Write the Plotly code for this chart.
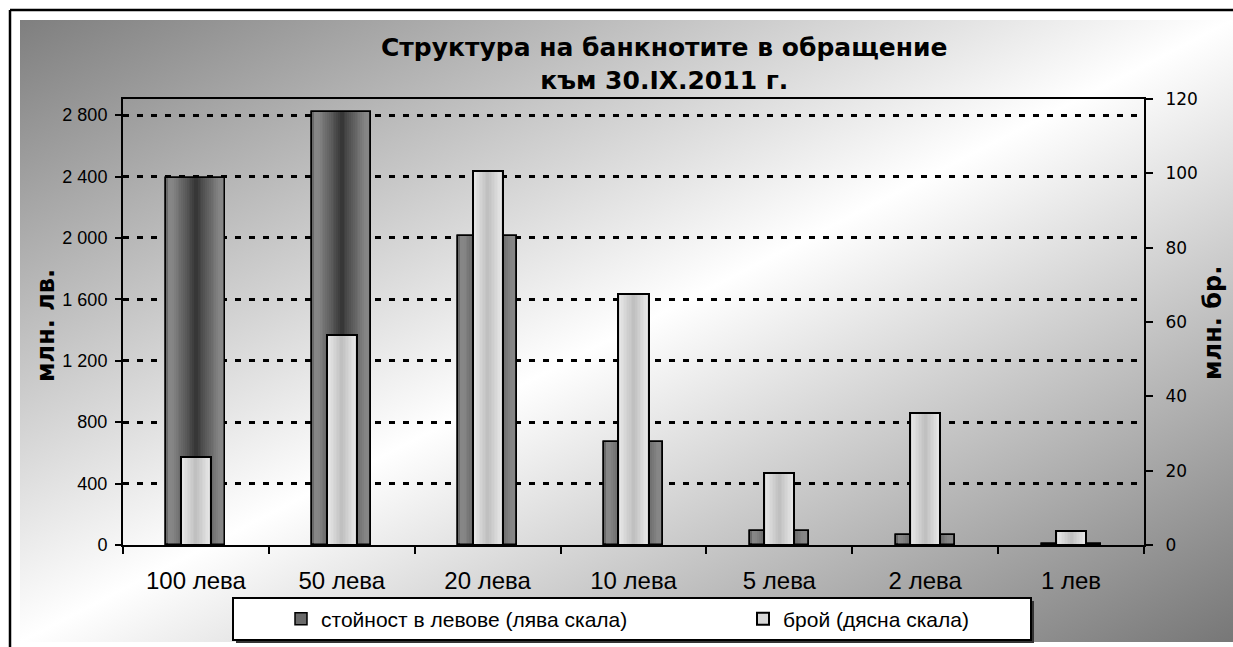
import base64
import plotly.graph_objects as go

# ---------------- data ----------------
categories = ["100 лева", "50 лева", "20 лева", "10 лева", "5 лева", "2 лева", "1 лев"]
value_mln_lv = [2390, 2820, 2010, 670, 93, 65, 4]          # left scale
count_mln_pcs = [23.6, 56.6, 100.6, 67.6, 19.3, 35.6, 3.8]  # right scale
left_tick_vals = [0, 400, 800, 1200, 1600, 2000, 2400, 2800]
left_tick_text = ["0", "400", "800", "1 200", "1 600", "2 000", "2 400", "2 800"]
right_tick_vals = [0, 20, 40, 60, 80, 100, 120]
right_tick_text = ["0", "20", "40", "60", "80", "100", "120"]
series_names = ["стойност в левове (лява скала)", "брой (дясна скала)"]
title_lines = ["Структура на банкнотите в обращение", "към 30.IX.2011 г."]
left_title = "млн. лв."
right_title = "млн. бр."

# ---------------- geometry (pixels) ----------------
W, H = 1233, 647
ML, MR, MT, MB = 123, 89, 99, 102
PW, PH = W - ML - MR, H - MT - MB


def px(x):
    return (x - ML) / PW


def py(y):
    return (H - MB - y) / PH


WIDE, NARROW = 0.404, 0.206


def grey(v):
    v = int(round(max(0, min(255, v))))
    return f"rgb({v},{v},{v})"


def wide_col(d):
    return grey(51 + (134 - 51) * min(1.0, d / 0.8) ** 0.9)


def narrow_col(d):
    return grey(190 + 46 * d)


fig = go.Figure()

# wide bars (value) with horizontal gradient built from nested bars
NW = 16
for k in range(NW):
    d = 1 - (k + 0.5) / NW
    first = k == 0
    fig.add_trace(go.Bar(
        x=categories, y=value_mln_lv, yaxis="y",
        width=WIDE * (1 - k / NW),
        marker=dict(color=wide_col(d) if not first else "#6a6a6a",
                    line=dict(color="black", width=1.5 if first else 0)),
        name=series_names[0], showlegend=first, legend="legend", hoverinfo="skip",
    ))
fig.add_trace(go.Bar(
    x=categories, y=value_mln_lv, yaxis="y", width=WIDE,
    marker=dict(color="rgba(0,0,0,0)", line=dict(color="black", width=1.5)),
    showlegend=False, hoverinfo="skip",
))

# narrow bars (count) on right axis
NN = 10
for k in range(NN):
    d = 1 - (k + 0.5) / NN
    first = k == 0
    fig.add_trace(go.Bar(
        x=categories, y=count_mln_pcs, yaxis="y2",
        width=NARROW * (1 - k / NN),
        marker=dict(color=narrow_col(d) if not first else "#d6d6d6",
                    line=dict(color="black", width=2 if first else 0)),
        name=series_names[1], showlegend=first, legend="legend2", hoverinfo="skip",
    ))
fig.add_trace(go.Bar(
    x=categories, y=count_mln_pcs, yaxis="y2", width=NARROW,
    marker=dict(color="rgba(0,0,0,0)", line=dict(color="black", width=2)),
    showlegend=False, hoverinfo="skip",
))

# background gradient
svg = (
    '<svg xmlns="http://www.w3.org/2000/svg" width="1213" height="622" '
    'viewBox="0 0 1213 622" preserveAspectRatio="none">'
    '<defs><linearGradient id="g" x1="0" y1="0" x2="1" y2="1">'
    '<stop offset="0" stop-color="#7f7f7f"/>'
    '<stop offset="0.5" stop-color="#ffffff"/>'
    '<stop offset="1" stop-color="#777777"/>'
    '</linearGradient></defs>'
    '<rect x="0" y="0" width="1213" height="622" fill="url(#g)"/></svg>'
)
src = "data:image/svg+xml;base64," + base64.b64encode(svg.encode()).decode()

shapes = [
    # outer frame (top & left visible)
    dict(type="line", xref="paper", yref="paper", x0=px(10), y0=py(10), x1=px(1240), y1=py(10),
         line=dict(color="black", width=2.5)),
    dict(type="line", xref="paper", yref="paper", x0=px(10), y0=py(10), x1=px(10), y1=py(660),
         line=dict(color="black", width=2.5)),
    # legend box shadow and box
    dict(type="rect", xref="paper", yref="paper", x0=px(236), y0=py(601), x1=px(1034), y1=py(643),
         fillcolor="#333333", line=dict(width=0), layer="above"),
    dict(type="rect", xref="paper", yref="paper", x0=px(233), y0=py(598), x1=px(1031), y1=py(640),
         fillcolor="white", line=dict(color="black", width=2), layer="above"),
]

annotations = [
    dict(text="<b>" + title_lines[0] + "<br>" + title_lines[1] + "</b>", xref="paper", yref="paper",
         x=px(664), y=py(64), xanchor="center", yanchor="middle", showarrow=False,
         font=dict(family="DejaVu Sans", size=25, color="black")),
    dict(text="<b>" + left_title + "</b>", xref="paper", yref="paper", x=px(46), y=py(326),
         xanchor="center", yanchor="middle", textangle=-90, showarrow=False,
         font=dict(family="DejaVu Sans", size=24, color="black")),
    dict(text="<b>" + right_title + "</b>", xref="paper", yref="paper", x=px(1213), y=py(323),
         xanchor="center", yanchor="middle", textangle=-90, showarrow=False,
         font=dict(family="DejaVu Sans", size=24, color="black")),
]

legend_common = dict(
    orientation="h", yanchor="middle", xanchor="left",
    bgcolor="rgba(0,0,0,0)", borderwidth=0,
    font=dict(family="Liberation Sans", size=21, color="black"),
)

fig.update_layout(
    width=W, height=H, autosize=False,
    margin=dict(l=ML, r=MR, t=MT, b=MB, pad=0, autoexpand=False),
    paper_bgcolor="white", plot_bgcolor="rgba(0,0,0,0)",
    barmode="overlay", bargap=0,
    images=[dict(source=src, xref="paper", yref="paper", x=px(20), y=py(20),
                 sizex=(1233 - 20) / PW, sizey=(642 - 20) / PH, sizing="stretch",
                 xanchor="left", yanchor="top", layer="below")],
    shapes=shapes, annotations=annotations,
    xaxis=dict(
        type="category", showgrid=False, showline=True, linecolor="black", linewidth=2,
        mirror=True, ticks="outside", tickson="boundaries", ticklen=7, tickwidth=2,
        tickcolor="black", ticklabelstandoff=13,
        tickfont=dict(family="Liberation Sans", size=24, color="black"),
    ),
    yaxis=dict(
        range=[0, 2905], tickvals=left_tick_vals, ticktext=left_tick_text,
        showline=True, linecolor="black", linewidth=2, ticks="outside", ticklen=6, tickwidth=2,
        tickcolor="black", showgrid=True, gridcolor="black", gridwidth=2.5, griddash="6px,8px",
        zeroline=False, ticklabelstandoff=4,
        tickfont=dict(family="Liberation Sans", size=18, color="black"),
    ),
    yaxis2=dict(
        range=[0, 120], tickvals=right_tick_vals, ticktext=right_tick_text,
        overlaying="y", side="right", showline=True, linecolor="black", linewidth=2,
        ticks="outside", ticklen=7, tickwidth=2, tickcolor="black", showgrid=False,
        zeroline=False, ticklabelstandoff=9,
        tickfont=dict(family="DejaVu Sans", size=17, color="black"),
    ),
    legend=dict(x=px(281), y=py(619), **legend_common),
    legend2=dict(x=px(743), y=py(619), **legend_common),
)

fig.write_html(
    "out.html",
    config={"displayModeBar": False, "responsive": False},
    post_script="document.body.style.margin='0';document.body.style.overflow='hidden';",
)
